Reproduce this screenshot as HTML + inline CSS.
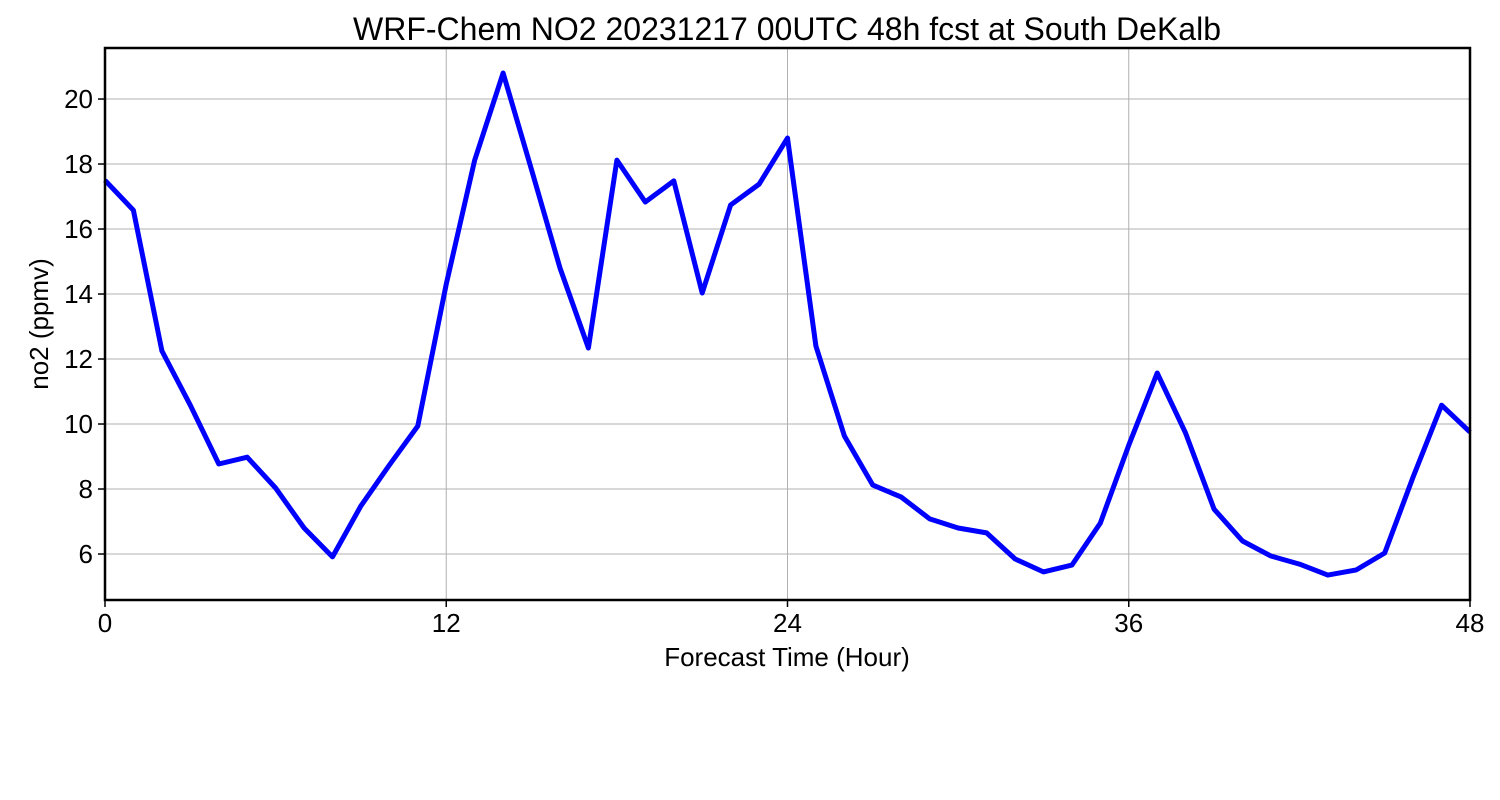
<!DOCTYPE html>
<html><head><meta charset="utf-8"><style>
html,body{margin:0;padding:0;background:#fff;}
svg{display:block;font-family:"Liberation Sans","DejaVu Sans",sans-serif;}
</style></head><body>
<svg id="chart" width="1500" height="800" xmlns="http://www.w3.org/2000/svg">
<rect width="1500" height="800" fill="#fff"/>
<text x="787" y="40" font-size="32" text-anchor="middle">WRF-Chem NO2  20231217 00UTC 48h fcst at South DeKalb</text>
<g id="grid"></g>
<g id="ticks"></g>
<path id="line" fill="none" stroke="#0000ff" stroke-width="5" stroke-linejoin="round"/>
<rect x="105" y="48" width="1365" height="552" fill="none" stroke="#000" stroke-width="2.5"/>
<text x="787" y="666" font-size="26" text-anchor="middle">Forecast Time (Hour)</text>
<text transform="translate(48,324) rotate(-90)" font-size="26" text-anchor="middle">no2  (ppmv)</text>
</svg>
<script>
const hours = [0,1,2,3,4,5,6,7,8,9,10,11,12,13,14,15,16,17,18,19,20,21,22,23,24,25,26,27,28,29,30,31,32,33,34,35,36,37,38,39,40,41,42,43,44,45,46,47,48];
const no2 = [17.5,16.58,12.25,10.58,8.77,8.98,8.03,6.8,5.91,7.48,8.74,9.94,14.31,18.12,20.8,17.82,14.8,12.34,18.12,16.83,17.48,14.03,16.74,17.38,18.8,12.4,9.63,8.12,7.75,7.08,6.8,6.65,5.85,5.45,5.66,6.95,9.35,11.57,9.72,7.38,6.4,5.94,5.69,5.35,5.51,6.03,8.37,10.58,9.75];
const xTicks = [0,12,24,36,48];
const yTicks = [6,8,10,12,14,16,18,20];

const X0=105,X1=1470,Y0=600,Y1=48;
const xMin=0,xMax=48,yMin=4.585,yMax=21.57;
function xs(v){return X0+(v-xMin)/(xMax-xMin)*(X1-X0);}
function ys(v){return Y0-(v-yMin)/(yMax-yMin)*(Y0-Y1);}
const NS="http://www.w3.org/2000/svg";
const grid=document.getElementById('grid'), ticks=document.getElementById('ticks');
xTicks.forEach(t=>{
  const x=xs(t);
  const l=document.createElementNS(NS,'line');
  l.setAttribute('x1',x);l.setAttribute('x2',x);l.setAttribute('y1',Y1);l.setAttribute('y2',Y0);
  l.setAttribute('stroke','#b0b0b0');l.setAttribute('stroke-width','1');
  
  
  grid.appendChild(l);
  const tk=document.createElementNS(NS,'line');
  tk.setAttribute('x1',x);tk.setAttribute('x2',x);tk.setAttribute('y1',Y0);tk.setAttribute('y2',Y0+7);
  tk.setAttribute('stroke','#000');tk.setAttribute('stroke-width','1.5');
  
  
  ticks.appendChild(tk);
  const tx=document.createElementNS(NS,'text');
  tx.setAttribute('x',x);tx.setAttribute('y',Y0+32);tx.setAttribute('font-size','26');tx.setAttribute('text-anchor','middle');
  tx.textContent=t;
  
  
  ticks.appendChild(tx);
});
yTicks.forEach(t=>{
  const y=ys(t);
  const l=document.createElementNS(NS,'line');
  l.setAttribute('x1',X0);l.setAttribute('x2',X1);l.setAttribute('y1',y);l.setAttribute('y2',y);
  l.setAttribute('stroke','#b0b0b0');l.setAttribute('stroke-width','1');
  
  
  grid.appendChild(l);
  const tk=document.createElementNS(NS,'line');
  tk.setAttribute('x1',X0-7);tk.setAttribute('x2',X0);tk.setAttribute('y1',y);tk.setAttribute('y2',y);
  tk.setAttribute('stroke','#000');tk.setAttribute('stroke-width','1.5');
  
  
  ticks.appendChild(tk);
  const tx=document.createElementNS(NS,'text');
  tx.setAttribute('x',X0-12);tx.setAttribute('y',y+9);tx.setAttribute('font-size','26');tx.setAttribute('text-anchor','end');
  tx.textContent=t;
  
  
  ticks.appendChild(tx);
});
document.getElementById('line').setAttribute('d',hours.map((h,i)=>(i?'L':'M')+xs(h).toFixed(1)+','+ys(no2[i]).toFixed(1)).join(''));
</script>
</body></html>
